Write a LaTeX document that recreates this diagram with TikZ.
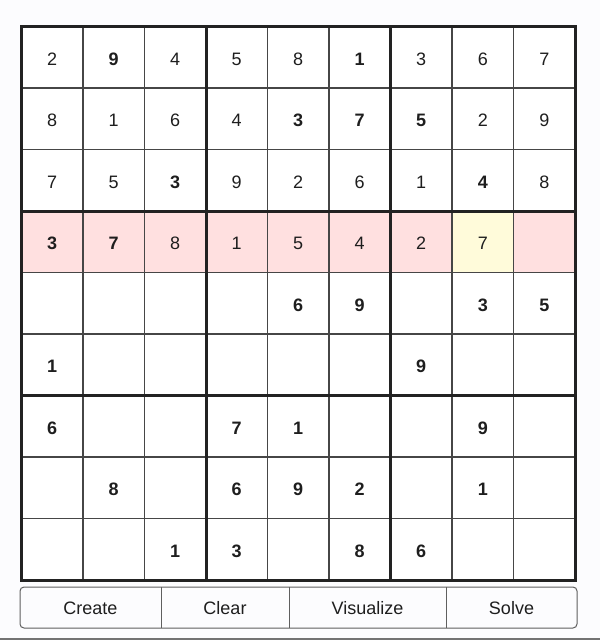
\documentclass[tikz,border=0pt]{standalone}
\usepackage{fontspec}
\setmainfont{Liberation Sans}
\usetikzlibrary{math}

\definecolor{pagebg}{RGB}{252,252,254}
\definecolor{rowpink}{RGB}{255,224,224}
\definecolor{cellyellow}{RGB}{255,251,218}
\definecolor{gridink}{RGB}{34,34,34}
\definecolor{thinink}{RGB}{70,70,70}
\definecolor{btnink}{RGB}{95,95,95}
\definecolor{digitink}{RGB}{30,30,30}

\begin{document}
\begin{tikzpicture}[x=1pt, y=-1pt,
	digit/.style={anchor=base, inner sep=0, text=digitink, font=\fontsize{18}{18}\selectfont},
	given/.style={digit, font=\fontsize{18}{18}\selectfont\bfseries},
	thinrule/.style={draw=thinink, line width=1.2},
	boxrule/.style={draw=gridink, line width=3},
	btnlabel/.style={anchor=base, inner sep=0, text=digitink, font=\fontsize{18}{18}\selectfont}]

\tikzmath{
	real \xo, \yo, \c;
	\xo = 21.5;
	\yo = 26.5;
	\c = 61.5;
}

\fill[pagebg] (0,0) rectangle (600,640);
\useasboundingbox (0,0) rectangle (600,640);

\fill[white] (\xo,\yo) rectangle ({\xo+9*\c},{\yo+9*\c});
\fill[rowpink] (\xo,{\yo+3*\c}) rectangle ({\xo+9*\c},{\yo+4*\c});
\fill[cellyellow] ({\xo+7*\c},{\yo+3*\c}) rectangle ({\xo+8*\c},{\yo+4*\c});

\foreach\i in {1,2,4,5,7,8}{
	\draw[thinrule] ({\xo+\i*\c},\yo)--({\xo+\i*\c},{\yo+9*\c});
	\draw[thinrule] (\xo,{\yo+\i*\c})--({\xo+9*\c},{\yo+\i*\c});
}
\foreach\i in {0,3,6,9}{
	\draw[boxrule] ({\xo+\i*\c},{\yo-1.5})--({\xo+\i*\c},{\yo+9*\c+1.5});
	\draw[boxrule] ({\xo-1.5},{\yo+\i*\c})--({\xo+9*\c+1.5},{\yo+\i*\c});
}

% clues
\foreach\r/\k/\d in {1/2/9,1/6/1,2/5/3,2/6/7,2/7/5,3/3/3,3/8/4,4/1/3,4/2/7,
		5/5/6,5/6/9,5/8/3,5/9/5,6/1/1,6/7/9,7/1/6,7/4/7,7/5/1,7/8/9,
		8/2/8,8/4/6,8/5/9,8/6/2,8/8/1,9/3/1,9/4/3,9/6/8,9/7/6}{
	\node[given] (d-\r-\k) at ({\xo+(\k-0.5)*\c},{\yo+(\r-0.5)*\c+7.8}) {\d};
}

% filled in
\foreach\r/\k/\d in {1/1/2,1/3/4,1/4/5,1/5/8,1/7/3,1/8/6,1/9/7,
		2/1/8,2/2/1,2/3/6,2/4/4,2/8/2,2/9/9,
		3/1/7,3/2/5,3/4/9,3/5/2,3/6/6,3/7/1,3/9/8,
		4/3/8,4/4/1,4/5/5,4/6/4,4/7/2,4/8/7}{
	\node[digit] (d-\r-\k) at ({\xo+(\k-0.5)*\c},{\yo+(\r-0.5)*\c+7.8}) {\d};
}

% buttons
\draw[btnink, line width=1, rounded corners=4] (20,587) rectangle (577,628);
\foreach\xa in {161,289,446}{
	\draw[btnink, line width=1] (\xa,587)--(\xa,628);
}
\foreach\xm/\name/\txt in {90.5/create/Create,225/clear/Clear,367.5/visualize/Visualize,511.5/solve/Solve}{
	\node[btnlabel] (btn-\name) at (\xm,614.5) {\txt};
}

\fill[black!55] (0,637.5) rectangle (600,640);

\end{tikzpicture}
\end{document}
